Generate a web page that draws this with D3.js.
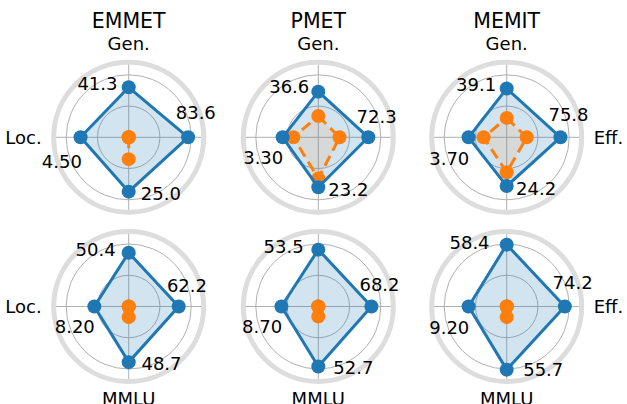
<!DOCTYPE html>
<html>
<head>
<meta charset="utf-8">
<script src="https://cdn.jsdelivr.net/npm/d3@7"></script>
<style>
  body { margin: 0; background: #fff; }
  text { font-family: 'DejaVu Sans', sans-serif; fill: #000; }
</style>
</head>
<body>
<div id="chart"></div>
<script>
// Data
const methods = ['EMMET', 'PMET', 'MEMIT']
const axes = ['Gen.', 'Eff.', 'MMLU', 'Loc.']   // clockwise from top

// normalised radii, one row per panel row
const editedRow0 = [[0.80, 0.95, 0.87, 0.77], [0.73, 0.80, 0.80, 0.57], [0.78, 0.86, 0.78, 0.61]]
const editedRow1 = [[0.86, 0.80, 0.89, 0.55], [0.91, 0.85, 0.96, 0.59], [0.99, 0.93, 1.01, 0.61]]
const baseRow0 = [[0.00, 0.00, 0.35, 0.00], [0.34, 0.34, 0.66, 0.40], [0.31, 0.32, 0.56, 0.37]]
const baseRow1 = [[0.00, 0.00, 0.17, 0.00], [0.00, 0.00, 0.16, 0.00], [0.00, 0.00, 0.17, 0.00]]

// annotated scores
const scoresRow0 = [[41.3, 83.6, 25.0, 4.50], [36.6, 72.3, 23.2, 3.30], [39.1, 75.8, 24.2, 3.70]]
const scoresRow1 = [[50.4, 62.2, 48.7, 8.20], [53.5, 68.2, 52.7, 8.70], [58.4, 74.2, 55.7, 9.20]]

const rGrid = [0.5, 1.0]

// Layout
const W = 627, H = 404
const R = 75
const colX = [128.7, 318.3, 506.7]
const rowY = [137.3, 306.5]

const blue = '#1f77b4', orange = '#ff7f0e'

const svg = d3.select('#chart').append('svg')
    .attr('width', W).attr('height', H)

const rScale = d3.scaleLinear().domain([0, 1.2]).range([0, R])
const aScale = d3.scalePoint().domain(axes).range([0, 2 * Math.PI * 3 / 4])

// label offsets per axis: rotate counter-clockwise (deg) and push outward (px)
const labelRot = { 'Gen.': 30, 'Eff.': 20, 'MMLU': 30, 'Loc.': 20 }
const labelPush = { 'Gen.': 12.5, 'Eff.': 12, 'MMLU': 10, 'Loc.': 23 }

const polar = (a, r) => [r * Math.sin(a), -r * Math.cos(a)]

const line = d3.lineRadial()
    .angle((d, i) => aScale(axes[i]))
    .radius(d => rScale(d))
    .curve(d3.curveLinearClosed)

const fmt = d3.format('.3r')

const rows = [
  { edited: editedRow0, base: baseRow0, scores: scoresRow0, show: ['Gen.'] },
  { edited: editedRow1, base: baseRow1, scores: scoresRow1, show: ['MMLU'] }
]

rows.forEach((row, ri) => {
  methods.forEach((m, ci) => {
    const g = svg.append('g')
        .attr('transform', `translate(${colX[ci]},${rowY[ri]})`)

    // grid circles
    g.selectAll('.grid')
      .data(rGrid).enter()
      .append('circle')
        .attr('r', d => rScale(d))
        .attr('fill', 'none')
        .attr('stroke', '#b0b0b0')
        .attr('stroke-width', 1)

    // spokes
    g.selectAll('.spoke')
      .data(axes).enter()
      .append('line')
        .attr('x1', 0).attr('y1', 0)
        .attr('x2', d => polar(aScale(d), R)[0])
        .attr('y2', d => polar(aScale(d), R)[1])
        .attr('stroke', '#b0b0b0')
        .attr('stroke-width', 1)

    // outer spine
    g.append('circle')
        .attr('r', R)
        .attr('fill', 'none')
        .attr('stroke', '#dddddd')
        .attr('stroke-width', 5)

    // axis labels
    const shown = row.show.slice()
    if (ci === 0) shown.push('Loc.')
    if (ci === 2) shown.push('Eff.')
    shown.forEach(ax => {
      const a = aScale(ax)
      const [x, y] = polar(a, ax === 'MMLU' ? 85 : 87)
      const t = g.append('text')
          .attr('x', x).attr('y', y)
          .attr('font-size', 18)
          .text(ax)
      if (ax === 'Gen.') t.attr('text-anchor', 'middle')
      else if (ax === 'MMLU') t.attr('text-anchor', 'middle').attr('dy', '0.73em')
      else if (ax === 'Eff.') t.attr('text-anchor', 'start').attr('dy', '0.36em')
      else t.attr('text-anchor', 'end').attr('dy', '0.36em')
    })

    const base = row.base[ci]
    const ed = row.edited[ci]

    // fills first
    g.append('path')
        .attr('d', line(ed))
        .attr('fill', blue)
        .attr('fill-opacity', 0.2)
        .attr('stroke', 'none')
    g.append('path')
        .attr('d', line(base))
        .attr('fill', orange)
        .attr('fill-opacity', 0.1)
        .attr('stroke', 'none')

    // baseline series (dashed orange)
    g.append('path')
        .attr('d', line(base))
        .attr('fill', 'none')
        .attr('stroke', orange)
        .attr('stroke-width', 3)
        .attr('stroke-dasharray', '11,6')
        .attr('stroke-linejoin', 'round')
    g.selectAll('.bdot')
      .data(base).enter()
      .append('circle')
        .attr('cx', (d, i) => polar(aScale(axes[i]), rScale(d))[0])
        .attr('cy', (d, i) => polar(aScale(axes[i]), rScale(d))[1])
        .attr('r', 7)
        .attr('fill', orange)

    // edited series (solid blue)
    g.append('path')
        .attr('d', line(ed))
        .attr('fill', 'none')
        .attr('stroke', blue)
        .attr('stroke-width', 3)
        .attr('stroke-linejoin', 'round')
    g.selectAll('.edot')
      .data(ed).enter()
      .append('circle')
        .attr('cx', (d, i) => polar(aScale(axes[i]), rScale(d))[0])
        .attr('cy', (d, i) => polar(aScale(axes[i]), rScale(d))[1])
        .attr('r', 7)
        .attr('fill', blue)

    // score labels
    g.selectAll('.score')
      .data(row.scores[ci]).enter()
      .append('text')
        .attr('x', (d, i) => {
          const ax = axes[i]
          return polar(aScale(ax) - labelRot[ax] * Math.PI / 180, rScale(ed[i]) + labelPush[ax])[0]
        })
        .attr('y', (d, i) => {
          const ax = axes[i]
          return polar(aScale(ax) - labelRot[ax] * Math.PI / 180, rScale(ed[i]) + labelPush[ax])[1]
        })
        .attr('dy', '0.36em')
        .attr('text-anchor', 'middle')
        .attr('font-size', 18)
        .text(d => fmt(d))

    // title
    if (ri === 0) {
      g.append('text')
          .attr('x', 0).attr('y', 28 - rowY[0])
          .attr('text-anchor', 'middle')
          .attr('font-size', 20.5)
          .text(m)
    }
  })
})
</script>
</body>
</html>
